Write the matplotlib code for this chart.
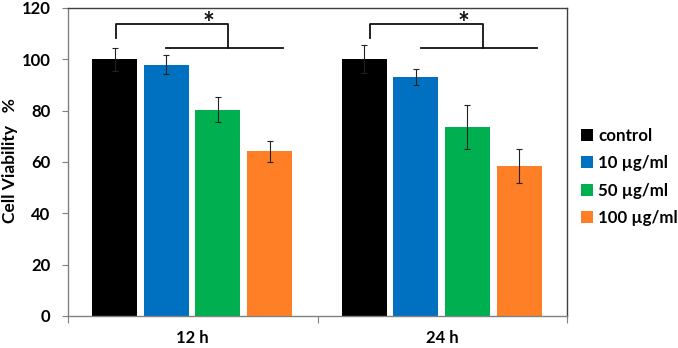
import numpy as np
import matplotlib
matplotlib.use("Agg")
import matplotlib.pyplot as plt

# data
groups = ["12 h", "24 h"]
series = ["control", "10 \u00b5g/ml", "50 \u00b5g/ml", "100 \u00b5g/ml"]
colors = ["#000000", "#0070C0", "#00B050", "#FF7F27"]
means = [
    [100.0, 100.0],   # control
    [97.9, 93.1],     # 10
    [80.4, 73.6],     # 50
    [64.1, 58.5],     # 100
]
errs = [
    [4.5, 5.5],
    [3.8, 3.1],
    [4.9, 8.5],
    [4.0, 6.5],
]

plt.rcParams["font.family"] = ["Lato", "DejaVu Sans"]
plt.rcParams["font.weight"] = "bold"

fig = plt.figure(figsize=(6.78, 3.48), dpi=100)
ax = fig.add_axes([68 / 678, 1 - 316 / 348, (567 - 68) / 678, (316 - 8) / 348])

x = np.arange(len(groups))
offsets = [-0.313, -0.106, 0.100, 0.309]
width = 0.18
for i, name in enumerate(series):
    ax.bar(x + offsets[i], means[i], width, color=colors[i], label=name, zorder=2)
    ax.errorbar(x + offsets[i], means[i], yerr=errs[i], fmt="none",
                ecolor="#222222", elinewidth=0.8, capsize=2, capthick=0.8, zorder=3)

# significance brackets
bk = "#111111"
for c, (lx, rx, l2, r2, sx) in zip(x, [(-0.308, 0.140, -0.107, 0.36, 0.064),
                                       (-0.289, 0.162, -0.085, 0.38, 0.086)]):
    ax.plot([c + lx, c + lx, c + rx, c + rx], [108.5, 113.7, 113.7, 104.6],
            color=bk, lw=1.3, clip_on=False, zorder=4)
    ax.plot([c + l2, c + r2], [104.6, 104.6], color=bk, lw=1.3, clip_on=False, zorder=4)
    ax.text(c + sx, 110.5, "*", ha="center", va="baseline", fontsize=20,
            fontweight="bold", color=bk)

ax.set_xlim(-0.5, 1.5)
ax.set_ylim(0, 120)
ax.set_yticks(np.arange(0, 121, 20))
ax.set_xticks([-0.5, 0.5, 1.5])
ax.set_xticklabels([])
ax.set_xticks(x, minor=True)
ax.set_xticklabels(groups, minor=True, fontsize=12, fontweight="bold")
ax.tick_params(axis="x", which="major", length=5, color="#808080", direction="out")
ax.tick_params(axis="x", which="minor", length=0, pad=10)
ax.tick_params(axis="y", length=4.5, color="#808080", pad=8, labelsize=12)
for lab in ax.get_yticklabels():
    lab.set_fontweight("bold")

for s in ["left", "bottom"]:
    ax.spines[s].set_color("#808080")
    ax.spines[s].set_linewidth(1.0)
for s in ["top", "right"]:
    ax.spines[s].set_color("#404040")
    ax.spines[s].set_linewidth(1.0)

fig.text(10 / 678, 1 - 161 / 348, "Cell Viability   %", rotation=90, ha="center",
         va="center", fontsize=12.5, fontweight="bold")

fig.legend(loc="center left", bbox_to_anchor=(581 / 678, 1 - 177 / 348),
           frameon=False, fontsize=12.2, handlelength=0.72, handleheight=0.72,
           handletextpad=0.3, labelspacing=0.68, borderpad=0, borderaxespad=0)

fig.savefig("out.png", dpi=100)
